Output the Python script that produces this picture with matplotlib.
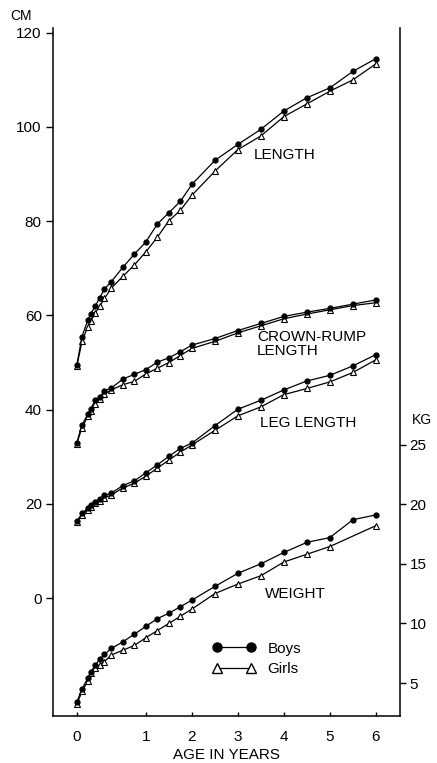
import numpy as np
import matplotlib
matplotlib.use("Agg")
import matplotlib.pyplot as plt
from matplotlib.lines import Line2D

plt.rcParams['font.family'] = ['Liberation Sans', 'DejaVu Sans']

# age at examination, months
months = [0, 0.9, 1.9, 2.4, 3.2, 4, 4.8, 6, 8, 10, 12, 15, 18, 21, 24,
          30, 36, 42, 48, 54, 60, 66, 72]
months_wg = [0, 0.9, 1.9, 2.4, 3.2, 4, 4.8, 6, 8, 10, 12, 15, 18, 21, 24,
             30, 36, 42, 48, 54, 60, 72]

# cm
length_boys = [49.5, 55.5, 59.0, 60.3, 62.0, 63.8, 65.6, 67.2, 70.2, 73.0, 75.6, 79.4,
               81.8, 84.2, 87.8, 92.9, 96.3, 99.5, 103.4, 106.2, 108.3, 111.8, 114.5]
length_girls = [49.2, 54.5, 57.6, 58.8, 60.5, 62.0, 63.6, 65.8, 68.3, 70.7, 73.5, 76.6,
                80.1, 82.3, 85.5, 90.6, 95.2, 98.1, 102.2, 104.9, 107.6, 110.0, 113.4]
crown_boys = [33.0, 36.8, 39.0, 40.2, 42.0, 42.7, 44.0, 44.6, 46.5, 47.5, 48.5, 50.1,
              51.0, 52.3, 53.7, 55.1, 56.8, 58.3, 59.8, 60.7, 61.5, 62.4, 63.3]
crown_girls = [32.8, 36.2, 38.6, 39.8, 41.2, 42.3, 43.3, 44.2, 45.3, 46.0, 47.6, 48.8,
               50.0, 51.5, 53.0, 54.5, 56.3, 57.8, 59.3, 60.3, 61.2, 62.1, 62.7]
leg_boys = [16.3, 18.0, 19.1, 19.8, 20.5, 21.1, 21.8, 22.3, 23.9, 24.9, 26.6, 28.3,
            30.1, 31.8, 32.9, 36.6, 40.1, 42.0, 44.2, 46.1, 47.3, 49.3, 51.7]
leg_girls = [16.2, 17.7, 18.8, 19.4, 20.1, 20.6, 21.3, 21.9, 23.4, 24.4, 25.9, 27.6,
             29.3, 31.0, 32.5, 35.6, 38.7, 40.6, 43.2, 44.5, 45.9, 47.9, 50.6]
# kg
weight_boys = [3.4, 4.5, 5.4, 5.9, 6.5, 7.0, 7.4, 7.9, 8.45, 9.1, 9.75, 10.4, 10.85,
               11.4, 11.95, 13.1, 14.2, 15.0, 15.95, 16.8, 17.2, 18.7, 19.1]
weight_girls = [3.2, 4.3, 5.15, 5.8, 6.25, 6.5, 6.8, 7.35, 7.75, 8.15, 8.8, 9.4, 10.0,
                10.6, 11.2, 12.5, 13.3, 14.0, 15.15, 15.8, 16.45, 18.2]

cm_ticks = [0, 20, 40, 60, 80, 100, 120]
kg_ticks = [5, 10, 15, 20, 25]
year_ticks = [0, 1, 2, 3, 4, 5, 6]

years = np.array(months) / 12
years_wg = np.array(months_wg) / 12


# first year drawn 1.5 times wider than the later years
def fwd(x):
    x = np.asarray(x, dtype=float)
    return np.where(x < 1, 1.5 * x, x + 0.5)


def inv(t):
    t = np.asarray(t, dtype=float)
    return np.where(t < 1.5, t / 1.5, t - 0.5)


fig = plt.figure(figsize=(4.37, 7.63), dpi=100, facecolor='white')
ax = fig.add_axes([0.121, 0.0616, 0.794, 0.9017])
ax.set_xscale('function', functions=(fwd, inv))
ax.set_xlim(-0.347, 6.52)
ax.set_ylim(-25, 121)

ax2 = ax.twinx()
ax2.set_ylim(2.233, 59.94)

line_kw = dict(color='black', linewidth=0.9)
boy_kw = dict(marker='o', markersize=3.5, markerfacecolor='black', markeredgecolor='black')
girl_kw = dict(marker='^', markersize=3.9, markerfacecolor='white', markeredgecolor='black',
               markeredgewidth=0.8)

for girls, boys in [(length_girls, length_boys), (crown_girls, crown_boys), (leg_girls, leg_boys)]:
    ax.plot(years, girls, **line_kw, **girl_kw)
    ax.plot(years, boys, **line_kw, **boy_kw)
ax2.plot(years_wg, weight_girls, **line_kw, **girl_kw)
ax2.plot(years, weight_boys, **line_kw, **boy_kw)

# spines
for s in ['top', 'right']:
    ax.spines[s].set_visible(False)
for s in ['top', 'left', 'bottom']:
    ax2.spines[s].set_visible(False)
for s in ['left', 'bottom']:
    ax.spines[s].set_linewidth(1.1)
ax2.spines['right'].set_linewidth(1.1)

ax.set_yticks(cm_ticks)
ax.set_xticks(year_ticks)
ax.set_xticklabels([str(t) for t in year_ticks])
ax.tick_params(axis='y', direction='out', length=5, width=1, pad=3, labelsize=11)
ax.tick_params(axis='x', direction='in', length=3, width=1, pad=10, labelsize=11)
ax.xaxis.set_minor_locator(matplotlib.ticker.NullLocator())
ax2.set_yticks(kg_ticks)
ax2.tick_params(axis='y', direction='out', length=4, width=1, pad=3, labelsize=11)

ax.set_xlabel('AGE IN YEARS', fontsize=11, labelpad=3)

# curve names
ax.text(0.669, 0.815, 'LENGTH', transform=ax.transAxes, fontsize=11, ha='center', va='center')
ax.text(0.588, 0.541, 'CROWN-RUMP\nLENGTH', transform=ax.transAxes, fontsize=11,
        ha='left', va='center', linespacing=1.0)
ax.text(0.597, 0.426, 'LEG LENGTH', transform=ax.transAxes, fontsize=11, ha='left', va='center')
ax.text(0.611, 0.177, 'WEIGHT', transform=ax.transAxes, fontsize=11, ha='left', va='center')

# unit captions
fig.text(0.023, 0.979, 'CM', fontsize=10, ha='left', va='center')
fig.text(0.943, 0.4495, 'KG', fontsize=10, ha='left', va='center')

handles = [Line2D([], [], color='black', linewidth=0.9, marker='o', markersize=6.5,
                  markerfacecolor='black'),
           Line2D([], [], color='black', linewidth=0.9, marker='^', markersize=6.5,
                  markerfacecolor='white', markeredgewidth=1.0)]
ax.legend(handles, ['Boys', 'Girls'], numpoints=2, frameon=False, fontsize=11,
          loc='center left', bbox_to_anchor=(0.46, 0.083), handlelength=2.8,
          handletextpad=0.8, labelspacing=0.4, borderpad=0, borderaxespad=0)

fig.savefig('out.png', dpi=100, facecolor='white')
plt.close()
